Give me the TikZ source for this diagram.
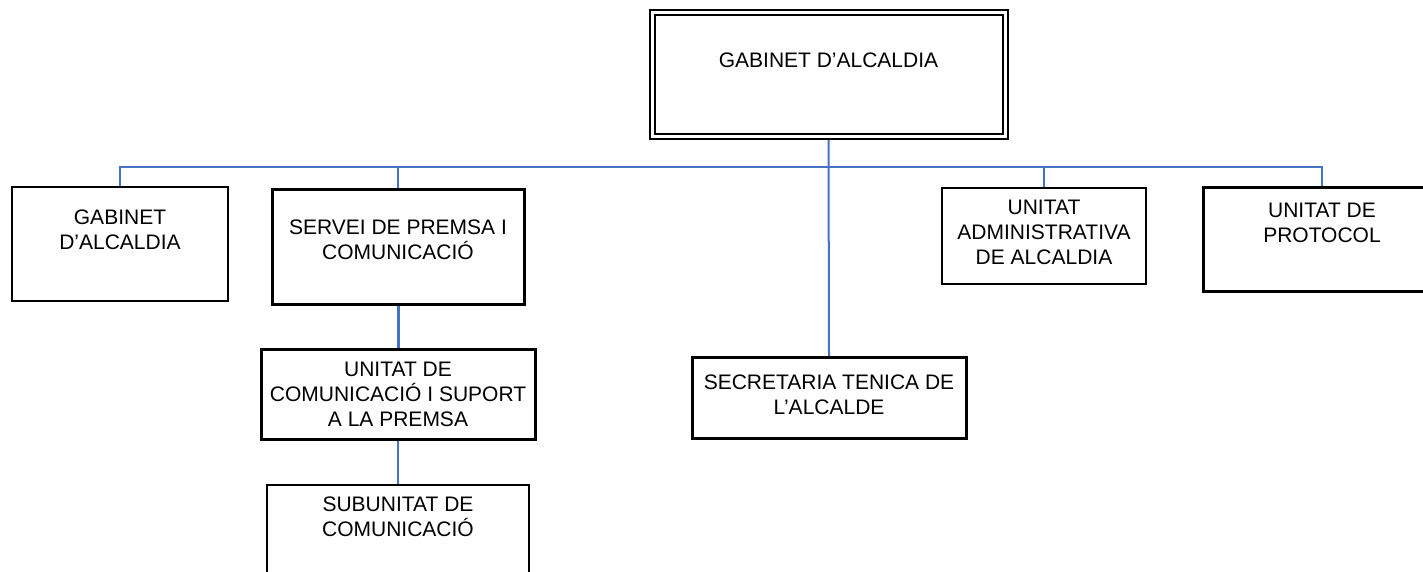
\documentclass[tikz,border=0pt]{standalone}
\usepackage{fontspec}
\setmainfont{Liberation Sans}
\usetikzlibrary{positioning,backgrounds}
\definecolor{linkblue}{HTML}{4472C4}
\tikzset{
  unit/.style={draw, line width=1.5pt, anchor=north west, inner sep=0pt, outer sep=0pt},
  bigunit/.style={unit, line width=3pt},
  txt/.style={align=center, inner sep=0pt, font=\fontsize{21}{25}\selectfont},
  link/.style={linkblue, line width=2pt}
}
\begin{document}
\begin{tikzpicture}[x=1pt,y=-1pt]
\useasboundingbox (0,0) rectangle (1423,572);

% boxes
\node[unit, double, line width=2pt, double distance=3pt, minimum width=353pt, minimum height=124pt] (alc) at (652,12.5) {};
\node[unit, minimum width=216pt, minimum height=114pt] (gab) at (12,187) {};
\node[bigunit, minimum width=252pt, minimum height=114pt] (servei) at (272,190) {};
\node[bigunit, minimum width=274pt, minimum height=90pt] (comun) at (261,349) {};
\node[unit, minimum width=262pt, minimum height=110pt] (subun) at (267,485) {};
\node[bigunit, minimum width=274pt, minimum height=81pt] (secr) at (692,357) {};
\node[unit, minimum width=204pt, minimum height=96pt] (admin) at (942,188) {};
\node[bigunit, minimum width=238pt, minimum height=103pt] (prot) at (1203,188) {};

% texts
\node[txt, below=40.5pt of alc.north] (alcT) {GABINET D’ALCALDIA};
\node[txt, below=23pt of gab.north] (gabT) {GABINET\\D’ALCALDIA};
\node[txt, below=30pt of servei.north] (serveiT) {SERVEI DE PREMSA I\\COMUNICACIÓ};
\node[txt, below=13pt of comun.north] (comunT) {UNITAT DE\\COMUNICACIÓ I SUPORT\\A LA PREMSA};
\node[txt, below=12pt of subun.north] (subunT) {SUBUNITAT DE\\COMUNICACIÓ};
\node[txt, below=18pt of secr.north] (secrT) {SECRETARIA TENICA DE\\L’ALCALDE};
\node[txt, below=12pt of admin.north] (adminT) {UNITAT\\ADMINISTRATIVA\\DE ALCALDIA};
\node[txt, below=15pt of prot.north] (protT) {UNITAT DE\\PROTOCOL};

% connectors
\begin{scope}[on background layer]
\coordinate (bus) at (828,167);
\draw[link] (alc.south) -- (secr.north);
\draw[link] (gab.north) -- (gab.north |- bus) -- (bus -| prot.north) -- (prot.north);
\foreach \n in {servei,admin} \draw[link] (\n.north) -- (\n.north |- bus);
\draw[link, line width=3pt] (servei.south) -- (comun.north);
\draw[link] (comun.south) -- (subun.north);
\end{scope}
\end{tikzpicture}
\end{document}
